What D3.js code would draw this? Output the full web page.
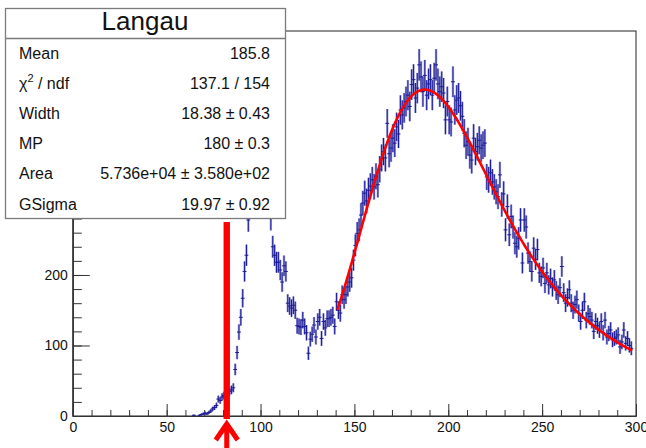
<!DOCTYPE html>
<html>
<head>
<meta charset="utf-8">
<script src="https://cdn.jsdelivr.net/npm/d3@7"></script>
<style>
  html, body { margin: 0; padding: 0; background: #fff; }
  svg { display: block; font-family: "Liberation Sans", Arial, Helvetica, sans-serif; }
</style>
</head>
<body>
<svg id="chart" width="646" height="448"></svg>
<script>
// Histogram: 1-unit bins starting at x = 60
const binStart = 60;
const binWidth = 1;
const counts = [
  0, 0, 0, 0, 1, 0, 0, 1, 2, 3,
  4, 3, 5, 7, 10, 12, 15, 24, 22, 27,
  29, 31, 33, 35, 37, 40, 66, 90, 119, 140,
  167, 205, 228, 278, 330, 380, 420, 450, 470, 480,
  470, 440, 400, 360, 320, 280, 240, 228, 218, 218,
  207, 190, 213, 205, 160, 156, 153, 157, 150, 128,
  127, 126, 136, 127, 118, 89, 109, 116, 129, 112,
  134, 140, 110, 134, 125, 138, 138, 140, 143, 127,
  162, 150, 146, 172, 165, 172, 183, 190, 196, 221,
  242, 259, 264, 285, 302, 316, 305, 320, 326, 335,
  325, 340, 328, 350, 366, 375, 366, 415, 372, 380,
  394, 387, 410, 400, 434, 427, 437, 446, 455, 439,
  470, 477, 451, 465, 498, 481, 460, 483, 455, 471,
  477, 455, 479, 498, 471, 460, 467, 458, 420, 446,
  420, 417, 474, 434, 448, 451, 440, 425, 401, 384,
  389, 370, 363, 394, 375, 382, 391, 380, 384, 387,
  339, 335, 345, 332, 325, 318, 311, 342, 300, 315,
  264, 297, 257, 283, 268, 245, 240, 252, 278, 217,
  278, 268, 231, 219, 205, 238, 222, 236, 203, 198,
  210, 188, 203, 186, 195, 183, 193, 178, 172, 182,
  212, 175, 160, 168, 179, 160, 150, 158, 165, 146,
  134, 150, 162, 136, 145, 141, 136, 120, 134, 128,
  122, 134, 118, 136, 112, 117, 122, 108, 110, 112,
  115, 98, 105, 122, 103, 110, 100, 96, 0, 0
];

// Axis ranges and ticks
const xDomain = [0, 300];
const yDomain = [0, 546];
const xMajorTicks = [0, 50, 100, 150, 200, 250, 300];
const xMinorTicks = d3.range(0, 301, 10);
const yMajorTicks = [0, 100, 200, 300, 400, 500];
const yMinorTicks = d3.range(0, 541, 20);

// Landau (x) Gaussian fit parameters
const fitName = "Langau";
const fitWidth = 18.38;
const fitMP = 180;
const fitArea = 5.736e4;
const fitGSigma = 19.97;
const fitRange = [141, 298];

// Stats box rows
const statLabels = ["Mean", "CHI2", "Width", "MP", "Area", "GSigma"];
const statValues = ["185.8", "137.1 / 154", "18.38 \u00b1 0.43", "180 \u00b1 0.3",
                    "5.736e+04 \u00b1 3.580e+02", "19.97 \u00b1 0.92"];

// Cut marker position on the x axis
const cutValue = 82;

const svg = d3.select("#chart");
const W = 646, H = 448;
svg.append("rect").attr("width", W).attr("height", H).attr("fill", "#fff");

const frame = { left: 72.8, right: 636, top: 31, bottom: 416 };
const x = d3.scaleLinear().domain(xDomain).range([frame.left, frame.right]);
const y = d3.scaleLinear().domain(yDomain).range([frame.bottom, frame.top]);

// Frame
svg.append("rect")
  .attr("x", frame.left).attr("y", frame.top)
  .attr("width", frame.right - frame.left).attr("height", frame.bottom - frame.top)
  .attr("fill", "none").attr("stroke", "#222").attr("stroke-width", 1);

// Axes with ticks pointing into the frame
function styleAxis(g) {
  g.select(".domain").attr("stroke", "#333");
  g.selectAll(".tick line").attr("stroke", "#333");
  g.selectAll(".tick text").attr("fill", "#111").attr("font-size", 14)
    .attr("font-family", "'Liberation Sans', Arial, sans-serif");
}
svg.append("g").attr("transform", `translate(0,${frame.bottom})`)
  .call(d3.axisBottom(x).tickValues(xMinorTicks).tickSize(-6).tickSizeOuter(0).tickFormat(""))
  .call(styleAxis);
svg.append("g").attr("transform", `translate(0,${frame.bottom})`)
  .call(d3.axisBottom(x).tickValues(xMajorTicks).tickSize(-12).tickSizeOuter(0).tickPadding(6).tickFormat(d3.format("d")))
  .call(styleAxis);

svg.append("g").attr("transform", `translate(${frame.left},0)`)
  .call(d3.axisLeft(y).tickValues(yMinorTicks).tickSize(-9).tickSizeOuter(0).tickFormat(""))
  .call(styleAxis);
svg.append("g").attr("transform", `translate(${frame.left},0)`)
  .call(d3.axisLeft(y).tickValues(yMajorTicks).tickSize(-17).tickSizeOuter(0).tickPadding(5).tickFormat(d3.format("d")))
  .call(styleAxis);

// Histogram points with Poisson error bars
const bins = counts.map((c, i) => ({ lo: binStart + i * binWidth, c }))
  .filter(d => d.c > 0);
const pts = svg.append("g");
pts.selectAll("line.halo").data(bins).join("line")
  .attr("class", "halo")
  .attr("x1", d => x(d.lo + binWidth / 2)).attr("x2", d => x(d.lo + binWidth / 2))
  .attr("y1", d => y(d.c + Math.sqrt(d.c))).attr("y2", d => y(Math.max(0, d.c - Math.sqrt(d.c))))
  .attr("stroke", "#6a6ac0").attr("stroke-opacity", 0.6).attr("stroke-width", 2.4);
pts.selectAll("line.err").data(bins).join("line")
  .attr("class", "err")
  .attr("x1", d => x(d.lo + binWidth / 2)).attr("x2", d => x(d.lo + binWidth / 2))
  .attr("y1", d => y(d.c + Math.sqrt(d.c))).attr("y2", d => y(Math.max(0, d.c - Math.sqrt(d.c))))
  .attr("stroke", "#1a1a96").attr("stroke-width", 1);
pts.selectAll("line.bw").data(bins).join("line")
  .attr("class", "bw")
  .attr("x1", d => x(d.lo) - 1).attr("x2", d => x(d.lo + binWidth) + 1)
  .attr("y1", d => y(d.c)).attr("y2", d => y(d.c))
  .attr("stroke", "#1a1a96").attr("stroke-width", 1);

// Landau density (CERNLIB DENLAN)
function denlan(v) {
  const p1 = [0.4259894875, -0.1249762550, 0.03984243700, -0.006298287635, 0.001511162253];
  const q1 = [1.0, -0.3388260629, 0.09594393323, -0.01608042283, 0.003778942063];
  const p2 = [0.1788541609, 0.1173957403, 0.01488850518, -0.001394989411, 0.0001283617211];
  const q2 = [1.0, 0.7428795082, 0.3153932961, 0.06694219548, 0.008790609714];
  const p3 = [0.1788544503, 0.09359161662, 0.006325387654, 0.00006611667319, -0.000002031049101];
  const q3 = [1.0, 0.6097809921, 0.2560616665, 0.04746722384, 0.006957301675];
  const p4 = [0.9874054407, 118.6723273, 849.2794360, -743.7792444, 427.0262186];
  const q4 = [1.0, 106.8615961, 337.6496214, 2016.712389, 1597.063511];
  const p5 = [1.003675074, 167.5702434, 4789.711289, 21217.86767, -22324.94910];
  const q5 = [1.0, 156.9424537, 3745.310488, 9834.698876, 66924.28357];
  const p6 = [1.000827619, 664.9143136, 62972.92665, 475554.6998, -5743609.109];
  const q6 = [1.0, 651.4101098, 56974.73333, 165917.4725, -2815759.939];
  const a1 = [0.04166666667, -0.01996527778, 0.02709538966];
  const a2 = [-1.845568670, -4.284640743];
  const poly = (p, t) => p[0] + (p[1] + (p[2] + (p[3] + p[4] * t) * t) * t) * t;
  let u;
  if (v < -5.5) {
    u = Math.exp(v + 1.0);
    if (u < 1e-10) return 0;
    return 0.3989422803 * (Math.exp(-1 / u) / Math.sqrt(u)) * (1 + (a1[0] + (a1[1] + a1[2] * u) * u) * u);
  } else if (v < -1) {
    u = Math.exp(-v - 1);
    return Math.exp(-u) * Math.sqrt(u) * poly(p1, v) / poly(q1, v);
  } else if (v < 1) {
    return poly(p2, v) / poly(q2, v);
  } else if (v < 5) {
    return poly(p3, v) / poly(q3, v);
  } else if (v < 12) {
    u = 1 / v; return u * u * poly(p4, u) / poly(q4, u);
  } else if (v < 50) {
    u = 1 / v; return u * u * poly(p5, u) / poly(q5, u);
  } else if (v < 300) {
    u = 1 / v; return u * u * poly(p6, u) / poly(q6, u);
  }
  u = 1 / (v - v * Math.log(v) / (v + 1));
  return u * u * (1 + (a2[0] + a2[1] * u) * u);
}

// Landau convolved with a Gaussian
function langau(xv, width, mp, area, gsigma) {
  const invsq2pi = 0.3989422804014;
  const mpshift = -0.22278298;
  const np = 100, sc = 5;
  const mpc = mp - mpshift * width;
  const xlow = xv - sc * gsigma, xupp = xv + sc * gsigma;
  const step = (xupp - xlow) / np;
  let sum = 0;
  for (let i = 1; i <= np / 2; i++) {
    let xx = xlow + (i - 0.5) * step;
    sum += denlan((xx - mpc) / width) / width * Math.exp(-0.5 * ((xv - xx) / gsigma) ** 2);
    xx = xupp - (i - 0.5) * step;
    sum += denlan((xx - mpc) / width) / width * Math.exp(-0.5 * ((xv - xx) / gsigma) ** 2);
  }
  return area * step * sum * invsq2pi / gsigma;
}

const fitPts = d3.range(fitRange[0], fitRange[1] + 0.001, 0.5)
  .map(t => [t, langau(t, fitWidth, fitMP, fitArea, fitGSigma)]);
svg.append("path")
  .datum(fitPts)
  .attr("d", d3.line().x(d => x(d[0])).y(d => y(d[1])).curve(d3.curveLinear))
  .attr("fill", "none").attr("stroke", "#ff0000").attr("stroke-width", 2.6)
  .attr("stroke-linejoin", "round");

// Stats box
const box = { x: 5, y: 8, w: 280, h: 210 };
const sb = svg.append("g");
sb.append("rect").attr("x", box.x + 0.5).attr("y", box.y + 0.5).attr("width", box.w).attr("height", box.h)
  .attr("fill", "#fff").attr("stroke", "#7a7a7a").attr("stroke-width", 1.3);
sb.append("line").attr("x1", box.x).attr("x2", box.x + box.w).attr("y1", 38.5).attr("y2", 38.5)
  .attr("stroke", "#7a7a7a").attr("stroke-width", 1.3);
sb.append("text").attr("x", box.x + box.w / 2).attr("y", 30).attr("text-anchor", "middle")
  .attr("font-size", 26).attr("fill", "#111").text(fitName);
statLabels.forEach((lab, i) => {
  const by = 59 + i * 30.1;
  const t = sb.append("text").attr("x", 19).attr("y", by).attr("font-size", 16).attr("fill", "#111");
  if (lab === "CHI2") {
    t.append("tspan").text("\u03c7");
    t.append("tspan").attr("font-size", 11).attr("dy", -7).text("2");
    t.append("tspan").attr("dy", 7).text(" / ndf");
  } else {
    t.text(lab);
  }
  sb.append("text").attr("x", 270).attr("y", by).attr("text-anchor", "end")
    .attr("font-size", 16).attr("fill", "#111").text(statValues[i]);
});

// Cut marker: vertical bar and arrow below the axis
const cx = x(cutValue);
svg.append("rect").attr("x", cx - 3.2).attr("y", 222).attr("width", 6.4).attr("height", 197)
  .attr("fill", "#ff0000");
svg.append("path")
  .attr("d", `M${cx},448 L${cx},423 M${cx - 11},440 L${cx},424 L${cx + 11},440`)
  .attr("fill", "none").attr("stroke", "#ff0000").attr("stroke-width", 5)
  .attr("stroke-linejoin", "miter");
</script>
</body>
</html>
